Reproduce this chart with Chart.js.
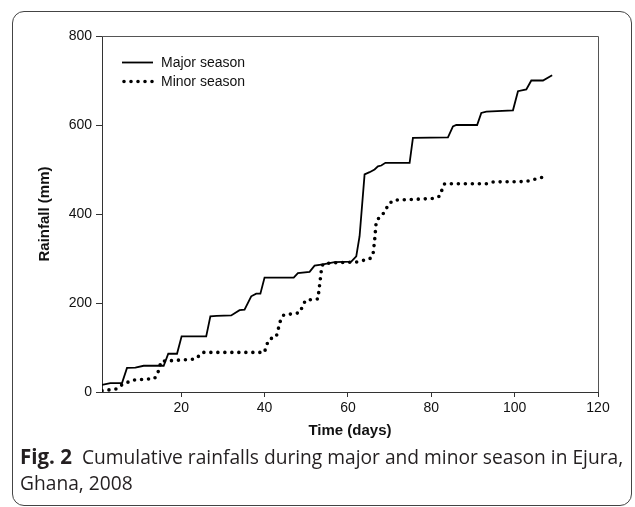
<!DOCTYPE html>
<html><head><meta charset="utf-8">
<script src="https://cdn.jsdelivr.net/npm/chart.js@4.4.1/dist/chart.umd.min.js"></script>
<style>
html,body{margin:0;padding:0;background:#fff;}
#wrap{position:relative;width:635px;height:507px;overflow:hidden;background:#fff;}
#frame{position:absolute;left:12px;top:11px;width:620px;height:495px;border:1px solid #444;border-radius:12px;box-sizing:border-box;}
#cv{position:absolute;left:0;top:0;}
#cap{position:absolute;left:20px;top:443px;width:612px;font-family:"Open Sans",sans-serif;font-size:19.2px;line-height:26px;color:#231f20;white-space:nowrap;}
#cap b{font-weight:700;font-size:20.5px;}
</style>
</head><body>
<div id="wrap">
<div id="frame"></div>
<canvas id="cv" width="635" height="445"></canvas>
<div id="cap"><b>Fig. 2</b>&nbsp; Cumulative rainfalls during major and minor season in Ejura,<br>Ghana, 2008</div>
</div>
<script>
// ---- data ----
const majorDays = [1, 3, 5.8, 7, 9, 11, 15.8, 16.9, 19, 20.1, 26, 27, 28.5, 32, 34, 35.2, 36.8, 38, 39, 40, 47, 48, 50.8, 52, 54, 56.8, 60.8, 62, 62.8, 64, 65.2, 66.4, 67.2, 68, 69, 74.8, 75.6, 84, 85.2, 86, 91, 92, 93.2, 99.6, 100.8, 102.8, 104, 106.8, 109];
const majorRain = [16, 20, 20, 54, 55, 59, 59, 86, 86, 125, 125, 170, 171, 172, 184, 185, 215, 221, 221, 257, 257, 267, 270, 284, 287, 292, 293, 305, 350, 489, 494, 500, 507, 509, 515, 515, 571, 572, 597, 600, 600, 627, 630, 633, 676, 680, 700, 700, 712];
const minorDays = [1, 3, 4.5, 5.6, 7.2, 8.6, 13.6, 14.4, 15.2, 23.4, 25.2, 40, 40.4, 41.2, 42.8, 43.8, 44.6, 48.4, 49.8, 52.8, 53.6, 54, 56, 62, 65.2, 66, 66.4, 66.8, 67.8, 69, 69.6, 71, 80.8, 82, 82.6, 83.2, 93.2, 94.8, 102.8, 104.4, 106.8, 108];
const minorRain = [3, 5, 7, 15, 22, 27, 30, 43, 69, 74, 89, 89, 104, 119, 124, 160, 173, 178, 206, 209, 271, 288, 290, 292, 299, 307, 340, 384, 395, 406, 421, 431, 435, 440, 455, 468, 468, 472, 473, 477, 483, 483];
const xTicks = [20, 40, 60, 80, 100, 120];
const seriesNames = ['Major season', 'Minor season'];
const xTitle = 'Time (days)';
const yTitle = 'Rainfall (mm)';

const toPts = (xs, ys) => xs.map((x, i) => ({x: x, y: ys[i]}));
const FONT = '"Liberation Sans", Arial, sans-serif';

const boxAndLegend = {
  id: 'boxAndLegend',
  afterDraw(chart) {
    const {ctx, chartArea: a} = chart;
    ctx.save();
    ctx.strokeStyle = '#555';
    ctx.lineWidth = 1;
    ctx.beginPath();
    ctx.moveTo(a.left, a.top + 0.5);
    ctx.lineTo(a.right + 0.5, a.top + 0.5);
    ctx.lineTo(a.right + 0.5, a.bottom);
    ctx.stroke();
    // legend
    const rows = [62, 81];
    chart.data.datasets.forEach((ds, i) => {
      const y = rows[i];
      ctx.save();
      ctx.strokeStyle = ds.borderColor;
      ctx.lineWidth = ds.borderWidth;
      ctx.lineCap = ds.borderCapStyle || 'butt';
      ctx.setLineDash(ds.borderDash || []);
      ctx.beginPath();
      ctx.moveTo(i === 0 ? 122 : 124, y + 0.5);
      ctx.lineTo(153, y + 0.5);
      ctx.stroke();
      ctx.restore();
      ctx.fillStyle = '#111';
      ctx.font = '14px ' + FONT;
      ctx.textBaseline = 'middle';
      ctx.fillText(ds.label, 161, y + 1);
    });
    ctx.restore();
  }
};

new Chart(document.getElementById('cv'), {
  type: 'line',
  data: {
    datasets: [
      {label: seriesNames[0], data: toPts(majorDays, majorRain), borderColor: '#000', borderWidth: 1.8, pointRadius: 0, tension: 0, fill: false},
      {label: seriesNames[1], data: toPts(minorDays, minorRain), borderColor: '#000', borderWidth: 3.6, borderDash: [0, 7], borderCapStyle: 'round', pointRadius: 0, tension: 0, fill: false}
    ]
  },
  options: {
    responsive: false,
    animation: false,
    layout: {padding: {left: 0, top: 36, right: 37, bottom: 0}},
    plugins: {legend: {display: false}, tooltip: {enabled: false}},
    scales: {
      x: {
        type: 'linear', min: 1, max: 120,
        afterBuildTicks: s => { s.ticks = xTicks.map(v => ({value: v})); },
        afterFit: s => { s.height = 53; },
        ticks: {font: {family: FONT, size: 14}, color: '#111', padding: 3, maxRotation: 0, autoSkip: false},
        grid: {drawOnChartArea: false, drawTicks: true, tickLength: 5, color: '#333'},
        border: {color: '#333', width: 1},
        title: {display: true, text: xTitle, font: {family: FONT, size: 15, weight: 'bold'}, color: '#111', padding: {top: 0, bottom: 5}}
      },
      y: {
        min: 0, max: 800,
        afterFit: s => { s.width = 102; },
        ticks: {stepSize: 200, font: {family: FONT, size: 14}, color: '#111', padding: 4},
        grid: {drawOnChartArea: false, drawTicks: true, tickLength: 6, color: '#333'},
        border: {color: '#333', width: 1},
        title: {display: true, text: yTitle, font: {family: FONT, size: 15, weight: 'bold'}, color: '#111', padding: {top: 36, bottom: 0}}
      }
    }
  },
  plugins: [boxAndLegend]
});
</script>
</body></html>
